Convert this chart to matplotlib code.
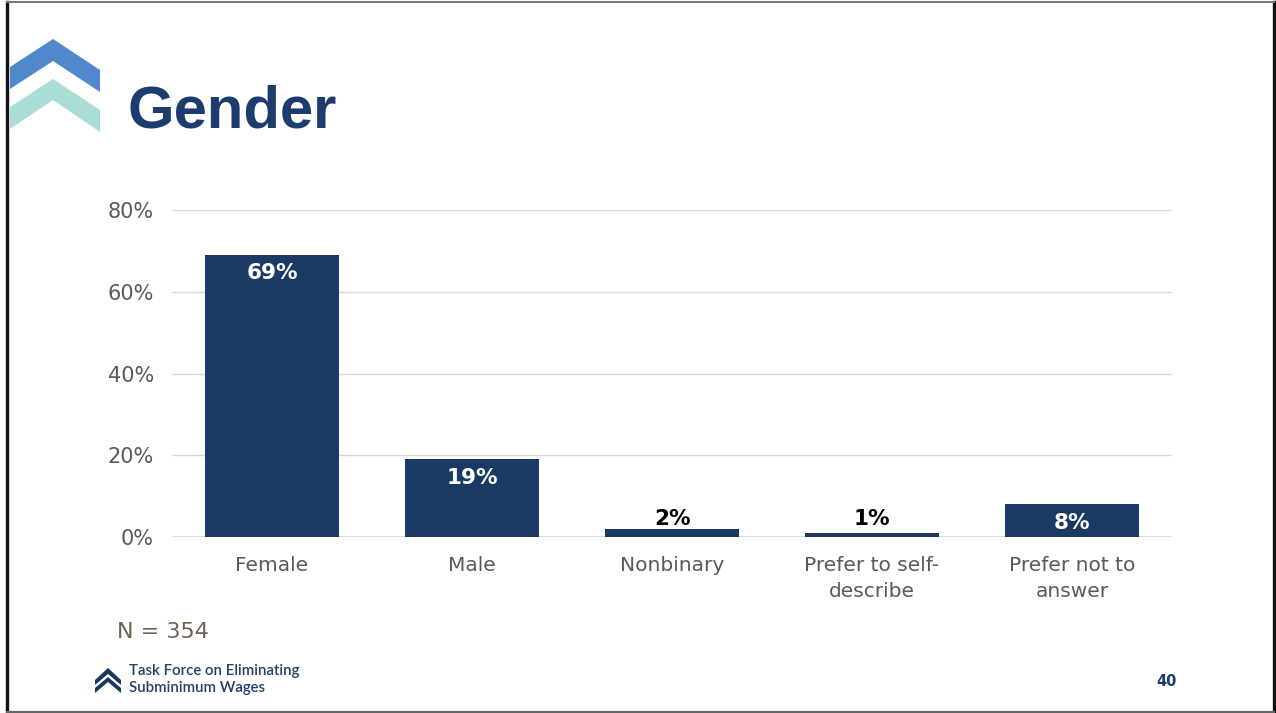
import matplotlib
matplotlib.use("Agg")
import matplotlib.pyplot as plt
from matplotlib.patches import Polygon
from matplotlib.lines import Line2D

# survey responses, percent of respondents
categories = ["Female", "Male", "Nonbinary", "Prefer to self-\ndescribe", "Prefer not to\nanswer"]
shares = [69, 19, 2, 1, 8]
y_ticks = [0, 20, 40, 60, 80]
sample_note = "N = 354"
page_number = "40"

NAVY = "#1a3a63"
TITLE_NAVY = "#1d3c6e"
W, H = 1276, 713

fig = plt.figure(figsize=(W / 100, H / 100), dpi=100)
fig.patch.set_facecolor("white")


def px_poly(points, color):
    # pixel coords (origin top-left) -> figure fraction
    pts = [(x / W, 1 - y / H) for x, y in points]
    fig.patches.append(Polygon(pts, closed=True, transform=fig.transFigure,
                               facecolor=color, edgecolor="none"))


def px_line(x0, y0, x1, y1, color, lw):
    fig.lines.append(Line2D([x0 / W, x1 / W], [1 - y0 / H, 1 - y1 / H],
                            transform=fig.transFigure, color=color, linewidth=lw))


# slide frame
px_line(7, 2, 7, 712, "#111111", 2.4)
px_line(1274, 2, 1274, 712, "#111111", 2.4)
px_line(7, 2, 1274, 2, "#777777", 1.5)
px_line(7, 711.5, 1274, 711.5, "#666666", 1.5)

# header chevrons
px_poly([(10, 67), (53, 39), (100, 70), (100, 92), (53, 61), (10, 89)], "#4f89cc")
px_poly([(10, 107), (53, 79), (100, 110), (100, 132), (53, 100), (10, 129)], "#a9ddd6")

fig.text(127 / W, 1 - 112 / H, "Gender", fontsize=43, fontweight="bold", color=TITLE_NAVY,
         family="Liberation Sans", va="center", ha="left")

# chart
ax = fig.add_axes([172 / W, 176 / H, 1000 / W, 327 / H])
x = range(len(categories))
bars = ax.bar(x, shares, width=0.67, color=NAVY, zorder=3)
ax.set_xlim(-0.5, len(categories) - 0.5)
ax.set_ylim(0, 80)
ax.set_yticks(y_ticks)
ax.set_yticklabels([f"{t}%" for t in y_ticks], fontsize=15, color="#595959")
ax.set_xticks(list(x))
ax.set_xticklabels(categories, fontsize=14.5, color="#595959", linespacing=1.45)
ax.tick_params(length=0, pad=14)
ax.tick_params(axis="y", pad=13)
ax.grid(axis="y", color="#d9d9d9", linewidth=1, zorder=0)
for s in ax.spines.values():
    s.set_visible(False)
ax.axhline(0, color="#d9d9d9", linewidth=1.2, zorder=2)

for b, v in zip(bars, shares):
    cx = b.get_x() + b.get_width() / 2
    if v >= 5:
        ax.text(cx, v - 4.5, f"{v}%", ha="center", va="center", color="white",
                fontsize=15.5, fontweight="bold", zorder=4)
    else:
        ax.text(cx, 4.4, f"{v}%", ha="center", va="center", color="black",
                fontsize=15.5, fontweight="bold", zorder=4)

fig.text(117 / W, 1 - 632 / H, sample_note, fontsize=16, color="#6b6350", va="center", ha="left")

# footer logo
px_poly([(95, 680), (108, 668), (121, 680), (121, 685), (108, 674), (95, 685)], "#1d3660")
px_poly([(95, 688), (108, 677), (121, 688), (121, 693), (108, 682), (95, 693)], "#1d3660")
fig.text(129 / W, 1 - 671 / H, "Task Force on Eliminating", fontsize=10.8, color="#243f6b",
         family="Lato", fontweight="semibold", va="center")
fig.text(129 / W, 1 - 688 / H, "Subminimum Wages", fontsize=10.8, color="#243f6b",
         family="Lato", fontweight="semibold", va="center")
fig.text(1167 / W, 1 - 681 / H, page_number, fontsize=10.5, fontweight="bold", color=TITLE_NAVY,
         ha="center", va="center")

fig.savefig("out.png", dpi=100)
